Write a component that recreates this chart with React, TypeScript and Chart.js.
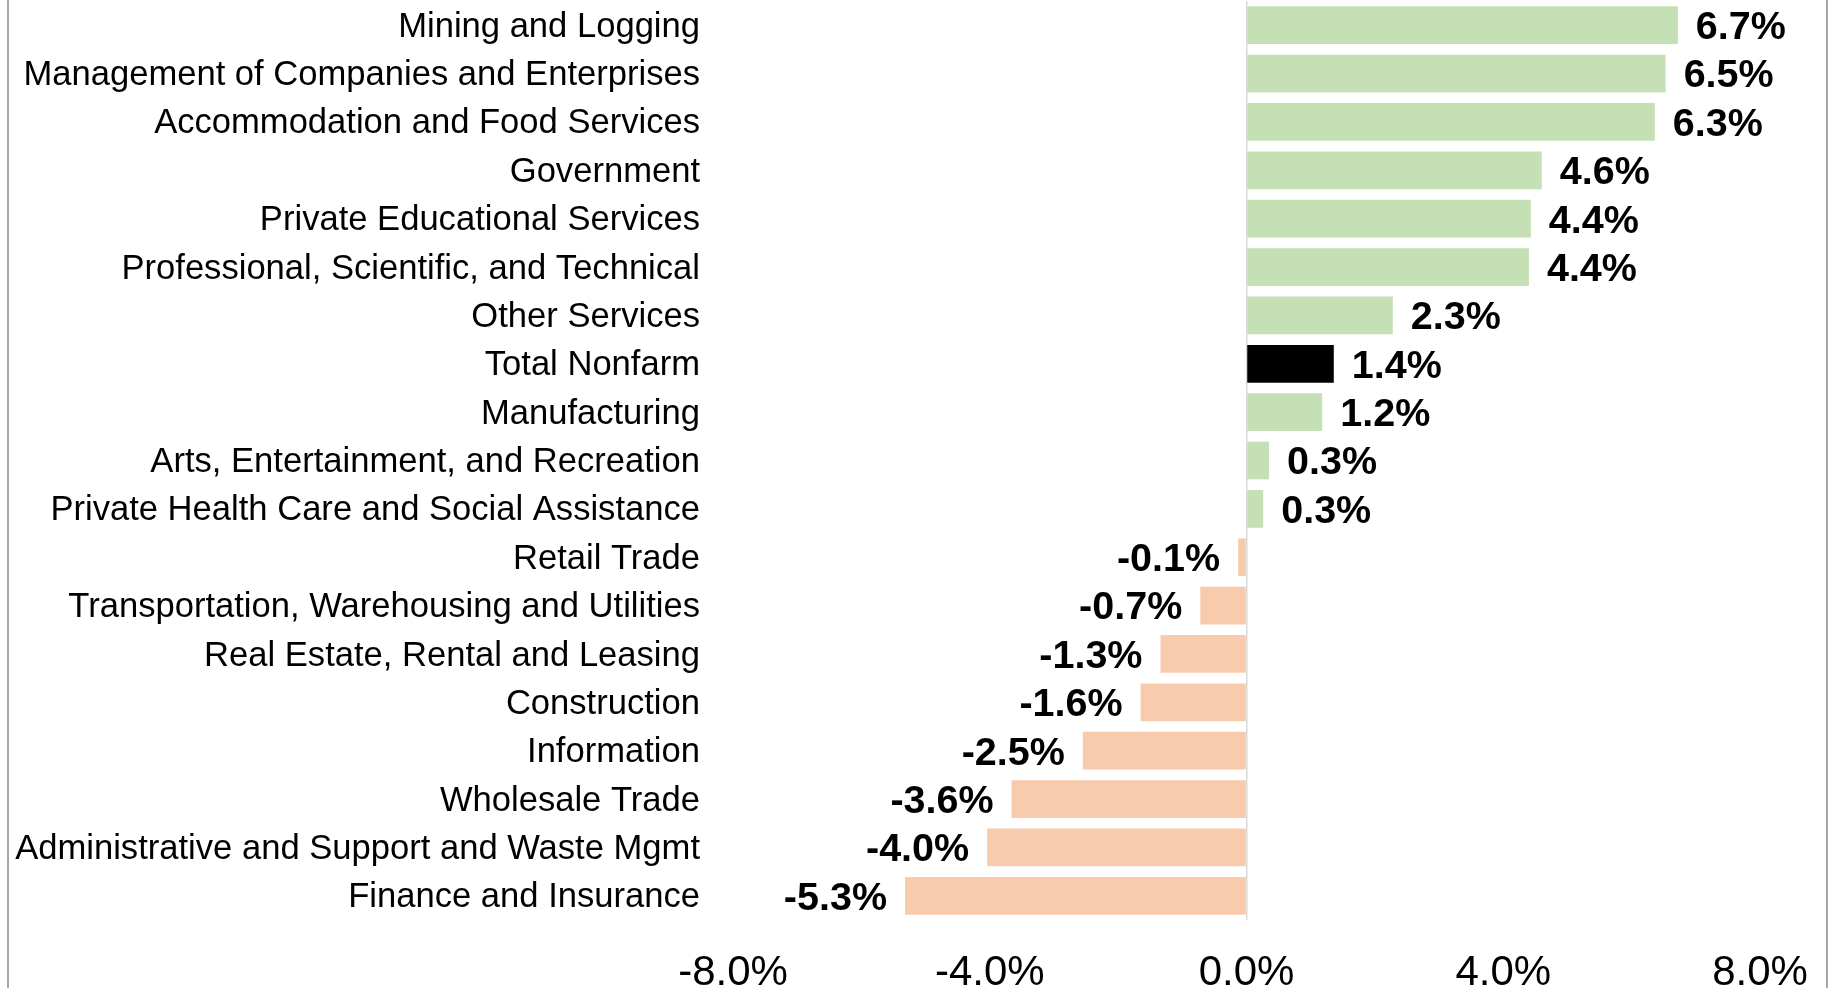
import React, { useEffect, useRef } from 'react';
import { Chart, registerables } from 'chart.js';

Chart.register(...registerables);

const categories = [
  'Mining and Logging',
  'Management of Companies and Enterprises',
  'Accommodation and Food Services',
  'Government',
  'Private Educational Services',
  'Professional, Scientific, and Technical',
  'Other Services',
  'Total Nonfarm',
  'Manufacturing',
  'Arts, Entertainment, and Recreation',
  'Private Health Care and Social Assistance',
  'Retail Trade',
  'Transportation, Warehousing and Utilities',
  'Real Estate, Rental and Leasing',
  'Construction',
  'Information',
  'Wholesale Trade',
  'Administrative and Support and Waste Mgmt',
  'Finance and Insurance',
];

const changeValues = [
  6.72, 6.53, 6.36, 4.6, 4.43, 4.4, 2.28, 1.36, 1.18, 0.35, 0.26,
  -0.13, -0.72, -1.34, -1.65, -2.55, -3.66, -4.04, -5.32,
];

const valueLabels = [
  '6.7%', '6.5%', '6.3%', '4.6%', '4.4%', '4.4%', '2.3%', '1.4%', '1.2%', '0.3%', '0.3%',
  '-0.1%', '-0.7%', '-1.3%', '-1.6%', '-2.5%', '-3.6%', '-4.0%', '-5.3%',
];

const xTickValues = [-8, -4, 0, 4, 8];
const totalCategory = 'Total Nonfarm';

const GREEN = '#C5E0B4';
const ORANGE = '#F8CBAD';
const BLACK = '#000000';
const FONT = '"Liberation Sans", Arial, Helvetica, sans-serif';

const barColors = categories.map((c, i) =>
  c === totalCategory ? BLACK : changeValues[i] >= 0 ? GREEN : ORANGE
);

const valueLabelPlugin = {
  id: 'valueLabels',
  afterDatasetsDraw(chart: any) {
    const ctx = chart.ctx;
    const meta = chart.getDatasetMeta(0);
    ctx.save();
    ctx.font = `bold 39.5px ${FONT}`;
    ctx.fillStyle = '#000';
    ctx.textBaseline = 'middle';
    meta.data.forEach((bar: any, i: number) => {
      const v = changeValues[i];
      if (v >= 0) {
        ctx.textAlign = 'left';
        ctx.fillText(valueLabels[i], bar.x + 18, bar.y + 3);
      } else {
        ctx.textAlign = 'right';
        ctx.fillText(valueLabels[i], bar.x - 18, bar.y + 3);
      }
    });
    ctx.restore();
  },
};

const frameLinesPlugin = {
  id: 'frameLines',
  afterDraw(chart: any) {
    const ctx = chart.ctx;
    ctx.save();
    ctx.fillStyle = '#a6a6a6';
    ctx.fillRect(7, 0, 2, chart.height);
    ctx.fillRect(1826, 0, 2, chart.height);
    ctx.restore();
  },
};

export default function App() {
  const canvasRef = useRef<HTMLCanvasElement | null>(null);

  useEffect(() => {
    document.body.style.margin = '0';
    document.body.style.overflow = 'hidden';
    const canvas = canvasRef.current;
    if (!canvas) return;
    const chart = new Chart(canvas, {
      type: 'bar',
      data: {
        labels: categories,
        datasets: [
          {
            data: changeValues,
            backgroundColor: barColors,
            borderWidth: 0,
            barPercentage: 0.78,
            categoryPercentage: 1,
          },
        ],
      },
      options: {
        indexAxis: 'y',
        responsive: false,
        animation: false,
        devicePixelRatio: 1,
        layout: { padding: { top: 1, right: 69, left: 0, bottom: 0 } },
        plugins: {
          legend: { display: false },
          tooltip: { enabled: false },
        },
        scales: {
          x: {
            min: -8,
            max: 8,
            afterBuildTicks: (scale: any) => {
              scale.ticks = xTickValues.map((v) => ({ value: v }));
            },
            afterFit: (scale: any) => {
              scale.height = 68;
              scale.paddingLeft = 0;
              scale.paddingRight = 0;
            },
            border: { display: false },
            grid: {
              drawTicks: false,
              lineWidth: 1.5,
              color: (ctx: any) =>
                ctx.tick && ctx.tick.value === 0 ? '#d9d9d9' : 'rgba(0,0,0,0)',
            },
            ticks: {
              padding: 28,
              color: '#000',
              font: { family: FONT, size: 42 },
              maxRotation: 0,
              callback: (v: any) => `${Number(v).toFixed(1)}%`,
            },
          },
          y: {
            afterFit: (scale: any) => {
              scale.width = 733;
              scale.paddingTop = 0;
              scale.paddingBottom = 0;
            },
            border: { display: false },
            grid: { display: false, drawTicks: false },
            ticks: {
              padding: 33,
              labelOffset: 2,
              color: '#000',
              font: { family: FONT, size: 34.6 },
              autoSkip: false,
            },
          },
        },
      },
      plugins: [valueLabelPlugin, frameLinesPlugin],
    });
    return () => chart.destroy();
  }, []);

  return (
    <div style={{ width: 1829, height: 988, background: '#fff' }}>
      <canvas ref={canvasRef} width={1829} height={988} style={{ display: 'block' }} />
    </div>
  );
}
